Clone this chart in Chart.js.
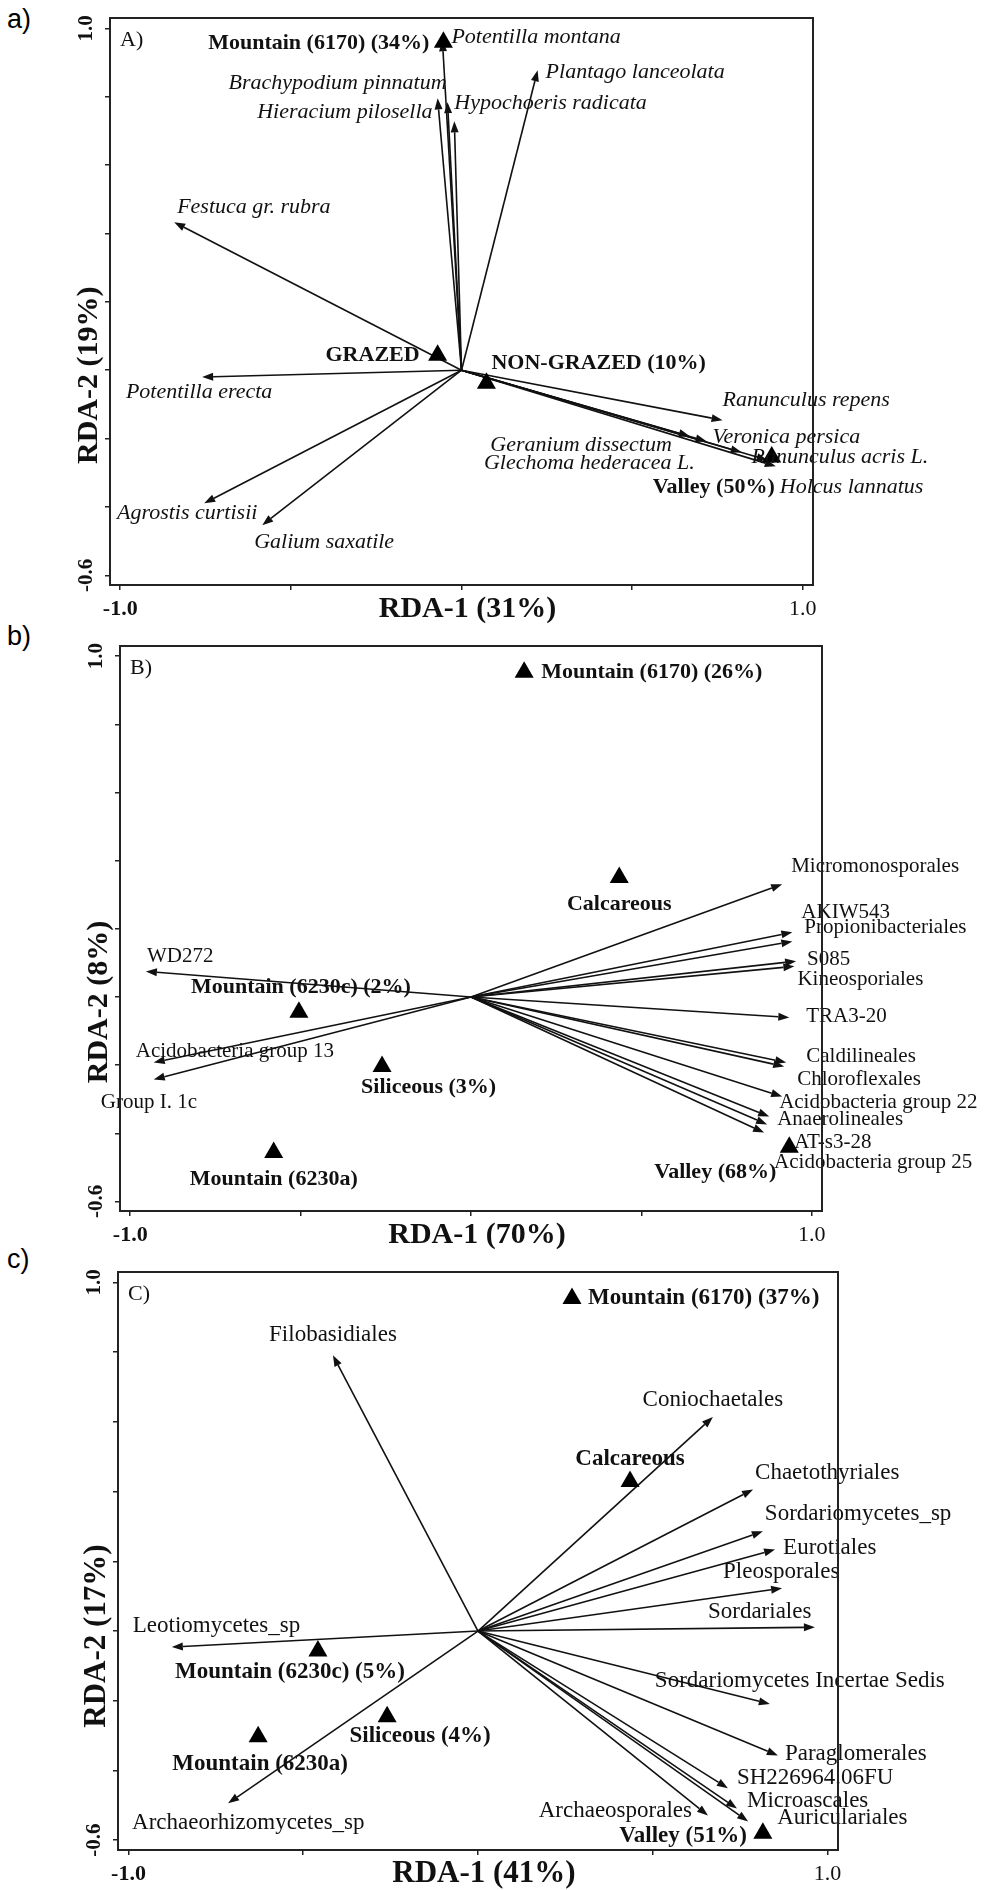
<!DOCTYPE html>
<html>
<head>
<meta charset="utf-8">
<script src="https://cdn.jsdelivr.net/npm/chart.js@4.4.0/dist/chart.umd.min.js"></script>
<style>
  body { margin: 0; background: #fff; width: 1000px; height: 1890px; position: relative; overflow: hidden; }
  canvas { position: absolute; left: 0; }
  .tag { position: absolute; left: 7px; font-family: "Liberation Sans", Arial, sans-serif; font-size: 27px; line-height: 27px; color: #000; }
</style>
</head>
<body>
<div class="tag" style="top:6px">a)</div>
<div class="tag" style="top:623px">b)</div>
<div class="tag" style="top:1246px">c)</div>
<canvas id="chartA" width="1000" height="625" style="top:0px"></canvas>
<canvas id="chartB" width="1000" height="640" style="top:615px"></canvas>
<canvas id="chartC" width="1000" height="645" style="top:1245px"></canvas>
<script>
const SERIF = '"Liberation Serif", "Times New Roman", serif';

// ---- panel a) plants ----
const axisA = ["RDA-1 (31%)", "RDA-2 (19%)"];
const speciesA = ["Potentilla montana", "Brachypodium pinnatum", "Hieracium pilosella", "Hypochoeris radicata",
  "Plantago lanceolata", "Festuca gr. rubra", "Potentilla erecta", "Agrostis curtisii", "Galium saxatile",
  "Ranunculus repens", "Geranium dissectum", "Veronica persica", "Glechoma hederacea L.", "Ranunculus acris L.",
  "Holcus lannatus"];
const speciesXA = [-0.056, -0.070, -0.041, -0.021, 0.223, -0.842, -0.760, -0.754, -0.584, 0.765, 0.669, 0.718, 0.821, 0.897, 0.921];
const speciesYA = [0.965, 0.795, 0.784, 0.728, 0.877, 0.433, -0.020, -0.389, -0.453, -0.146, -0.193, -0.208, -0.240, -0.263, -0.281];
const sitesA = ["Mountain (6170) (34%)", "GRAZED", "NON-GRAZED (10%)", "Valley (50%)"];
const sitesXA = [-0.053, -0.070, 0.073, 0.909];
const sitesYA = [0.959, 0.044, -0.038, -0.254];

// ---- panel b) bacteria ----
const axisB = ["RDA-1 (70%)", "RDA-2 (8%)"];
const speciesB = ["WD272", "Acidobacteria group 13", "Group I. 1c", "Micromonosporales", "AKIW543",
  "Propionibacteriales", "S085", "Kineosporiales", "TRA3-20", "Caldilineales", "Chloroflexales",
  "Acidobacteria group 22", "Anaerolineales", "AT-s3-28", "Acidobacteria group 25"];
const speciesXB = [-0.954, -0.931, -0.931, 0.913, 0.943, 0.943, 0.954, 0.949, 0.934, 0.925, 0.919, 0.913, 0.875, 0.869, 0.860];
const speciesYB = [0.075, -0.192, -0.242, 0.331, 0.190, 0.163, 0.105, 0.090, -0.060, -0.192, -0.204, -0.292, -0.351, -0.374, -0.398];
const sitesB = ["Mountain (6170) (26%)", "Calcareous", "Mountain (6230c) (2%)", "Siliceous (3%)", "Mountain (6230a)", "Valley (68%)"];
const sitesXB = [0.156, 0.435, -0.505, -0.261, -0.579, 0.934];
const sitesYB = [0.953, 0.351, -0.045, -0.204, -0.456, -0.441];

// ---- panel c) fungi ----
const axisC = ["RDA-1 (41%)", "RDA-2 (17%)"];
const speciesC = ["Filobasidiales", "Leotiomycetes_sp", "Archaeorhizomycetes_sp", "Coniochaetales", "Chaetothyriales",
  "Sordariomycetes_sp", "Eurotiales", "Pleosporales", "Sordariales", "Sordariomycetes Incertae Sedis",
  "Paraglomerales", "SH226964.06FU", "Microascales", "Auriculariales", "Archaeosporales"];
const speciesXC = [-0.415, -0.876, -0.715, 0.672, 0.787, 0.815, 0.850, 0.870, 0.964, 0.835, 0.858, 0.715, 0.741, 0.773, 0.658];
const speciesYC = [0.791, -0.046, -0.494, 0.614, 0.406, 0.286, 0.234, 0.123, 0.011, -0.209, -0.357, -0.451, -0.509, -0.546, -0.529];
const sitesC = ["Mountain (6170) (37%)", "Calcareous", "Mountain (6230c) (5%)", "Siliceous (4%)", "Mountain (6230a)", "Valley (51%)"];
const sitesXC = [0.269, 0.435, -0.458, -0.260, -0.629, 0.815];
const sitesYC = [0.954, 0.429, -0.057, -0.246, -0.303, -0.580];

// label placement relative to the point: [dx, dy, align]
const spPlaceA = [[9,-3,'left'],[9,-15,'right'],[-15,10,'right'],[0,-18,'left'],[8,2,'left'],[3,-15,'left'],
  [-3,15,'center'],[-17,10,'center'],[-8,17,'left'],[0,-20,'left'],[-18,9,'right'],[6,-4,'left'],
  [-47,11,'right'],[-16,-3,'left'],[4,21,'left']];
const stPlaceA = [[-14,1,'right'],[-18,0,'right'],[5,-20,'left'],[3,30,'right']];
const spPlaceB = [[1,-15,'left'],[-18,-11,'left'],[-53,23,'left'],[9,-18,'left'],[9,-20,'left'],[12,-14,'left'],
  [11,-2,'left'],[3,13,'left'],[17,-1,'left'],[20,-6,'left'],[13,13,'left'],[-3,6,'left'],[8,3,'left'],
  [27,18,'left'],[10,30,'left']];
const stPlaceB = [[17,0,'left'],[0,27,'center'],[2,-25,'center'],[-21,21,'left'],[0,27,'center'],[-13,25,'right']];
const spPlaceC = [[0,-20,'center'],[-39,-21,'left'],[-96,20,'left'],[0,-17,'center'],[2,-17,'left'],[2,-17,'left'],
  [8,-2,'left'],[-59,-16,'left'],[-107,-15,'left'],[-115,-23,'left'],[7,-2,'left'],[9,-10,'left'],
  [10,-8,'left'],[29,-3,'left'],[-16,-5,'right']];
const stPlaceC = [[16,0,'left'],[0,-22,'center'],[-28,21,'center'],[33,19,'center'],[2,27,'center'],[-16,3,'right']];

const panels = {
  chartA: { top: 0, height: 625, area: { left: 110, top: 18, right: 813, bottom: 585 }, tag: "A)", axis: axisA,
    titleSize: 30, spFont: "italic 22px " + SERIF, stFont: "bold 22px " + SERIF,
    sp: speciesA, spX: speciesXA, spY: speciesYA, spPlace: spPlaceA,
    st: sitesA, stX: sitesXA, stY: sitesYA, stPlace: stPlaceA },
  chartB: { top: 615, height: 640, area: { left: 120, top: 646, right: 822, bottom: 1211 }, tag: "B)", axis: axisB,
    titleSize: 30, spFont: "21px " + SERIF, stFont: "bold 22px " + SERIF,
    sp: speciesB, spX: speciesXB, spY: speciesYB, spPlace: spPlaceB,
    st: sitesB, stX: sitesXB, stY: sitesYB, stPlace: stPlaceB },
  chartC: { top: 1245, height: 645, area: { left: 118, top: 1272, right: 838, bottom: 1850 }, tag: "C)", axis: axisC,
    titleSize: 31, spFont: "23px " + SERIF, stFont: "bold 23px " + SERIF,
    sp: speciesC, spX: speciesXC, spY: speciesYC, spPlace: spPlaceC,
    st: sitesC, stX: sitesXC, stY: sitesYC, stPlace: stPlaceC }
};

function drawArrow(ctx, x0, y0, x1, y1) {
  const ang = Math.atan2(y1 - y0, x1 - x0);
  const len = 11, hw = 4;
  const bx = x1 - len * Math.cos(ang), by = y1 - len * Math.sin(ang);
  ctx.beginPath(); ctx.moveTo(x0, y0); ctx.lineTo(bx, by); ctx.stroke();
  ctx.beginPath(); ctx.moveTo(x1, y1);
  ctx.lineTo(bx + hw * Math.sin(ang), by - hw * Math.cos(ang));
  ctx.lineTo(bx - hw * Math.sin(ang), by + hw * Math.cos(ang));
  ctx.closePath(); ctx.fill();
}

function drawLabels(ctx, xs, ys, names, place, font, sx, sy) {
  ctx.font = font;
  ctx.textBaseline = "middle";
  names.forEach((n, i) => {
    const p = place[i];
    ctx.textAlign = p[2];
    ctx.fillText(n, sx.getPixelForValue(xs[i]) + p[0], sy.getPixelForValue(ys[i]) + p[1]);
  });
}

const rdaPlugin = {
  id: "rda",
  beforeDatasetsDraw(chart) {
    const p = panels[chart.canvas.id];
    const { ctx, scales: { x, y } } = chart;
    const x0 = x.getPixelForValue(0), y0 = y.getPixelForValue(0);
    ctx.save();
    ctx.strokeStyle = "#111"; ctx.fillStyle = "#111"; ctx.lineWidth = 1.6;
    p.spX.forEach((vx, i) => drawArrow(ctx, x0, y0, x.getPixelForValue(vx), y.getPixelForValue(p.spY[i])));
    ctx.restore();
  },
  afterDatasetsDraw(chart) {
    const p = panels[chart.canvas.id];
    const { ctx, scales: { x, y } } = chart;
    ctx.save();
    ctx.fillStyle = "#111";
    drawLabels(ctx, p.spX, p.spY, p.sp, p.spPlace, p.spFont, x, y);
    drawLabels(ctx, p.stX, p.stY, p.st, p.stPlace, p.stFont, x, y);
    ctx.restore();
  },
  afterDraw(chart) {
    const p = panels[chart.canvas.id];
    const { ctx, chartArea: a, scales: { x, y } } = chart;
    ctx.save();
    // frame
    ctx.strokeStyle = "#222"; ctx.lineWidth = 2;
    ctx.strokeRect(a.left, a.top, a.right - a.left, a.bottom - a.top);
    // panel tag
    ctx.fillStyle = "#111";
    ctx.font = "22px " + SERIF; ctx.textAlign = "left"; ctx.textBaseline = "middle";
    ctx.fillText(p.tag, a.left + 10, a.top + 22);
    // axis titles, centred on the zero lines
    ctx.font = "bold " + p.titleSize + "px " + SERIF; ctx.textAlign = "center";
    ctx.fillText(p.axis[0], x.getPixelForValue(0) + 6, a.bottom + 24);
    ctx.translate(a.left - 21, y.getPixelForValue(0) + 5);
    ctx.rotate(-Math.PI / 2);
    ctx.fillText(p.axis[1], 0, 0);
    ctx.restore();
  }
};

function near(v, t) { return Math.abs(v - t) < 1e-6; }

function makeChart(id) {
  const p = panels[id];
  const a = p.area;
  new Chart(document.getElementById(id), {
    type: "scatter",
    data: {
      datasets: [{
        data: p.stX.map((vx, i) => ({ x: vx, y: p.stY[i] })),
        pointStyle: "triangle",
        radius: 11,
        backgroundColor: "#000",
        borderColor: "#000",
        borderWidth: 0,
        clip: false
      }]
    },
    options: {
      responsive: false,
      animation: false,
      devicePixelRatio: 1,
      layout: { autoPadding: false, padding: { left: 0, top: a.top - p.top, right: 1000 - a.right, bottom: 0 } },
      plugins: { legend: { display: false }, tooltip: { enabled: false } },
      scales: {
        x: {
          type: "linear", min: -1.03, max: 1.03,
          border: { display: false },
          grid: { drawOnChartArea: false, tickLength: 5, color: "#222", lineWidth: 1.5 },
          ticks: {
            stepSize: 0.5, includeBounds: false, autoSkip: false, maxRotation: 0, padding: 6, color: "#111",
            font: (c) => ({ family: SERIF, size: 22, weight: c.tick && c.tick.value < 0 ? "bold" : "normal" }),
            callback: (v) => near(v, -1) ? "-1.0" : near(v, 1) ? "1.0" : ""
          },
          afterFit: (s) => { s.height = p.height - (a.bottom - p.top); }
        },
        y: {
          type: "linear", min: -0.628, max: 1.03,
          border: { display: false },
          grid: { drawOnChartArea: false, tickLength: 5, color: "#222", lineWidth: 1.5 },
          ticks: {
            stepSize: 0.2, includeBounds: false, autoSkip: false, minRotation: 90, maxRotation: 90,
            crossAlign: "center", padding: 2, color: "#111",
            font: { family: SERIF, size: 21, weight: "bold" },
            callback: (v) => near(v, 1) ? "1.0" : near(v, -0.6) ? "-0.6" : ""
          },
          afterFit: (s) => { s.width = a.left; }
        }
      }
    },
    plugins: [rdaPlugin]
  });
}

makeChart("chartA");
makeChart("chartB");
makeChart("chartC");
</script>
</body>
</html>
